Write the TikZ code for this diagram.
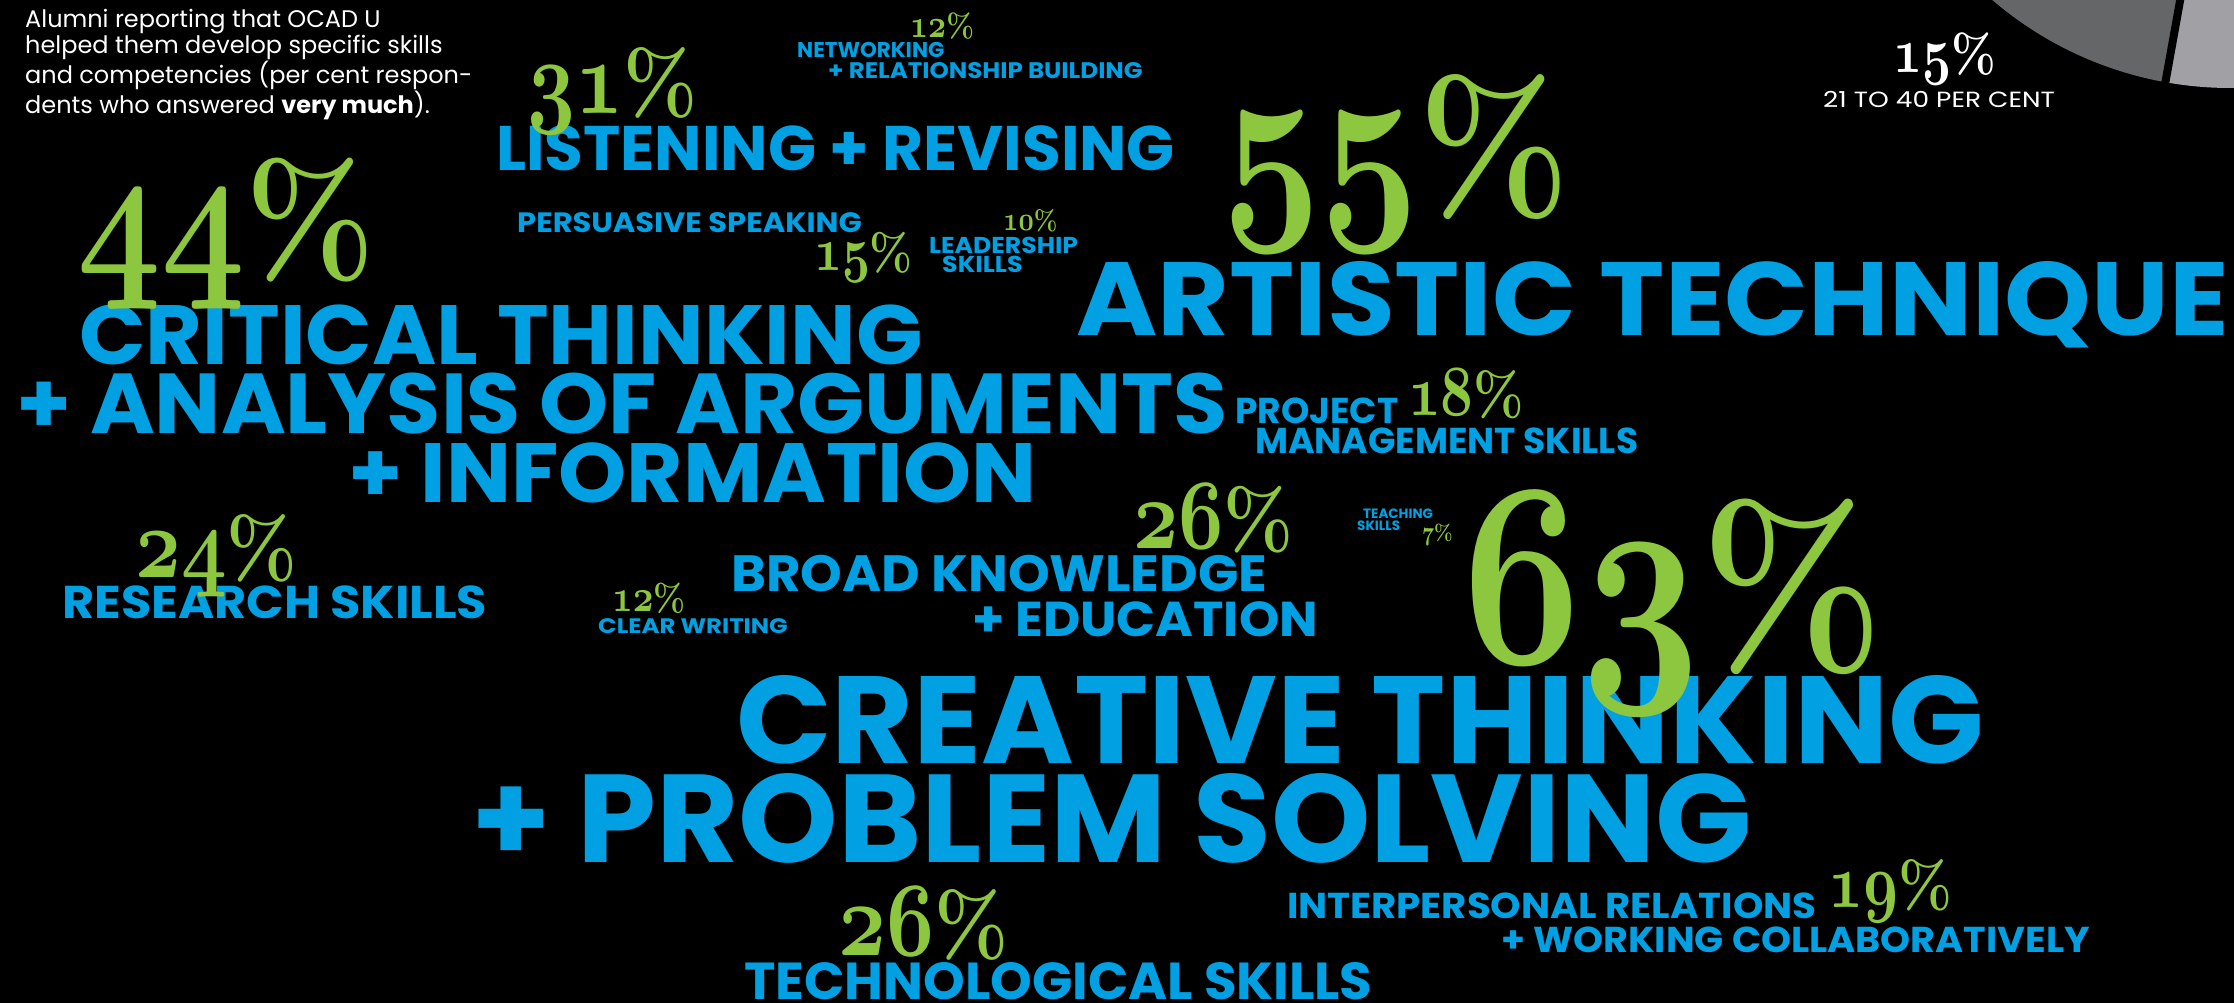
\documentclass[tikz,border=0pt]{standalone}
\usepackage{fontspec}
\usepackage{graphicx}
\usepackage{tikz}
\newfontfamily\lblfont{Poppins}
\definecolor{skillblue}{RGB}{0,160,227}
\definecolor{skillgreen}{RGB}{141,198,63}
\definecolor{piedark}{RGB}{101,102,104}
\definecolor{pielight}{RGB}{161,161,165}
% old style figures from the bold math italic font
\DeclareFontFamily{OML}{oldfig}{}
\DeclareFontShape{OML}{oldfig}{b}{it}{<-> cmmib10}{}
\newcommand{\oldnum}[1]{{\usefont{OML}{oldfig}{b}{it}\scalebox{0.95}[1.2]{#1}}}
\newcommand{\pct}[1]{\oldnum{#1}\scalebox{0.9}[1]{\bfseries\%}}
\newcommand{\wide}[2]{\scalebox{#1}[1]{#2}}

\begin{document}
\begin{tikzpicture}[x=1pt,y=-1pt,
		lbl/.style={anchor=base west, inner sep=0pt, text=skillblue, font={\lblfont\bfseries\fontsize{#1}{#1}\selectfont}},
		pctnum/.style={anchor=base west, inner sep=0pt, text=skillgreen, font={\fontsize{#1}{#1}\selectfont}}]
			\fill[black] (0,0) rectangle (2234,1003);
			\useasboundingbox (0,0) rectangle (2234,1003);
			\clip (0,0) rectangle (2234,1003);
			% pie in the corner
			\coordinate (piec) at (2230,-277);
			\fill[piedark] (piec) -- ++(100.2:365) arc[start angle=100.2, end angle=170, radius=365] -- cycle;
			\fill[pielight] (piec) -- ++(10:365) arc[start angle=10, end angle=100.2, radius=365] -- cycle;
			\draw[black, line width=8pt] (piec) -- ++(100.2:380);
			\node[pctnum=53, text=white] (p15w) at (1893,73) {\pct{15}};
			\node[anchor=base west, inner sep=0pt, text=white, font={\lblfont\fontsize{22}{22}\selectfont}] (range) at (1823,108) {\wide{1.2}{21 TO 40 PER CENT}};
			% intro
			\node[anchor=north west, inner sep=0pt, align=left, text=white, font={\lblfont\fontsize{24}{26.5}\selectfont}] (intro) at (25,9)
				{Alumni reporting that OCAD U\\helped them develop specific skills\\and competencies (per cent respon-\\dents who answered \textbf{very much}).};
			% skill labels
			\node[lbl=21.4] (netw) at (797,58) {NETWORKING};
			\node[lbl=22.5] (netwb) at (828,79) {\wide{1.09}{+ RELATIONSHIP BUILDING}};
			\node[lbl=63] (listen) at (496,171) {LISTENING + REVISING};
			\node[lbl=84] (crit) at (79,364) {\wide{1.04}{CRITICAL THINKING}};
			\node[lbl=85] (critb) at (16,433) {\wide{1.035}{+ ANALYSIS OF ARGUMENTS}};
			\node[lbl=84] (critc) at (348,502) {\wide{1.03}{+ INFORMATION}};
			\node[lbl=28] (pers) at (517,233) {\wide{1.09}{PERSUASIVE SPEAKING}};
			\node[lbl=23] (lead) at (929,253) {\wide{1.09}{LEADERSHIP}};
			\node[lbl=23] (leadb) at (942,272) {\wide{1.1}{SKILLS}};
			\node[lbl=104] (art) at (1076,335) {\wide{1.06}{ARTISTIC TECHNIQUE}};
			\node[lbl=36] (proj) at (1235,423) {PROJECT};
			\node[lbl=36] (projb) at (1255,453) {MANAGEMENT SKILLS};
			\node[lbl=13.5] (teach) at (1363,518) {TEACHING};
			\node[lbl=13.5] (teachb) at (1357,530) {SKILLS};
			\node[lbl=51] (broad) at (731,591) {\wide{1.04}{BROAD KNOWLEDGE}};
			\node[lbl=49] (broadb) at (972,636) {\wide{1.048}{+ EDUCATION}};
			\node[lbl=46] (research) at (62,618) {\wide{1.072}{RESEARCH SKILLS}};
			\node[lbl=21] (clear) at (598,633) {\wide{1.16}{CLEAR WRITING}};
			\node[lbl=124] (creat) at (736,763) {\wide{1.013}{CREATIVE THINKING}};
			\node[lbl=125] (creatb) at (471,862) {\wide{1.012}{+ PROBLEM SOLVING}};
			\node[lbl=36] (inter) at (1287,918) {\wide{1.075}{INTERPERSONAL RELATIONS}};
			\node[lbl=36] (interb) at (1501,952) {\wide{1.06}{+ WORKING COLLABORATIVELY}};
			\node[lbl=52] (tech) at (744,999) {\wide{1.02}{TECHNOLOGICAL SKILLS}};
			% percentages
			\node[pctnum=33] (p12a) at (910,38) {\pct{12}};
			\node[pctnum=88] (p31) at (527,114) {\pct{31}};
			\node[pctnum=154] (p44) at (77,273) {\pct{44}};
			\node[pctnum=51] (p15) at (814,270) {\pct{15}};
			\node[pctnum=28] (p10) at (1003,230) {\pct{10}};
			\node[pctnum=180] (p55) at (1222,209) {\pct{55}};
			\node[pctnum=60] (p18) at (1408,415) {\pct{18}};
			\node[pctnum=22] (p7) at (1422,540) {\pct{7}};
			\node[pctnum=218] (p63) at (1462,662) {\pct{63}};
			\node[pctnum=83] (p26a) at (1133,548) {\pct{26}};
			\node[pctnum=84] (p24) at (135,577) {\pct{24}};
			\node[pctnum=38] (p12b) at (612,611) {\pct{12}};
			\node[pctnum=64] (p19) at (1828,907) {\pct{19}};
			\node[pctnum=88] (p26b) at (838,955) {\pct{26}};
		\end{tikzpicture}
\end{document}
